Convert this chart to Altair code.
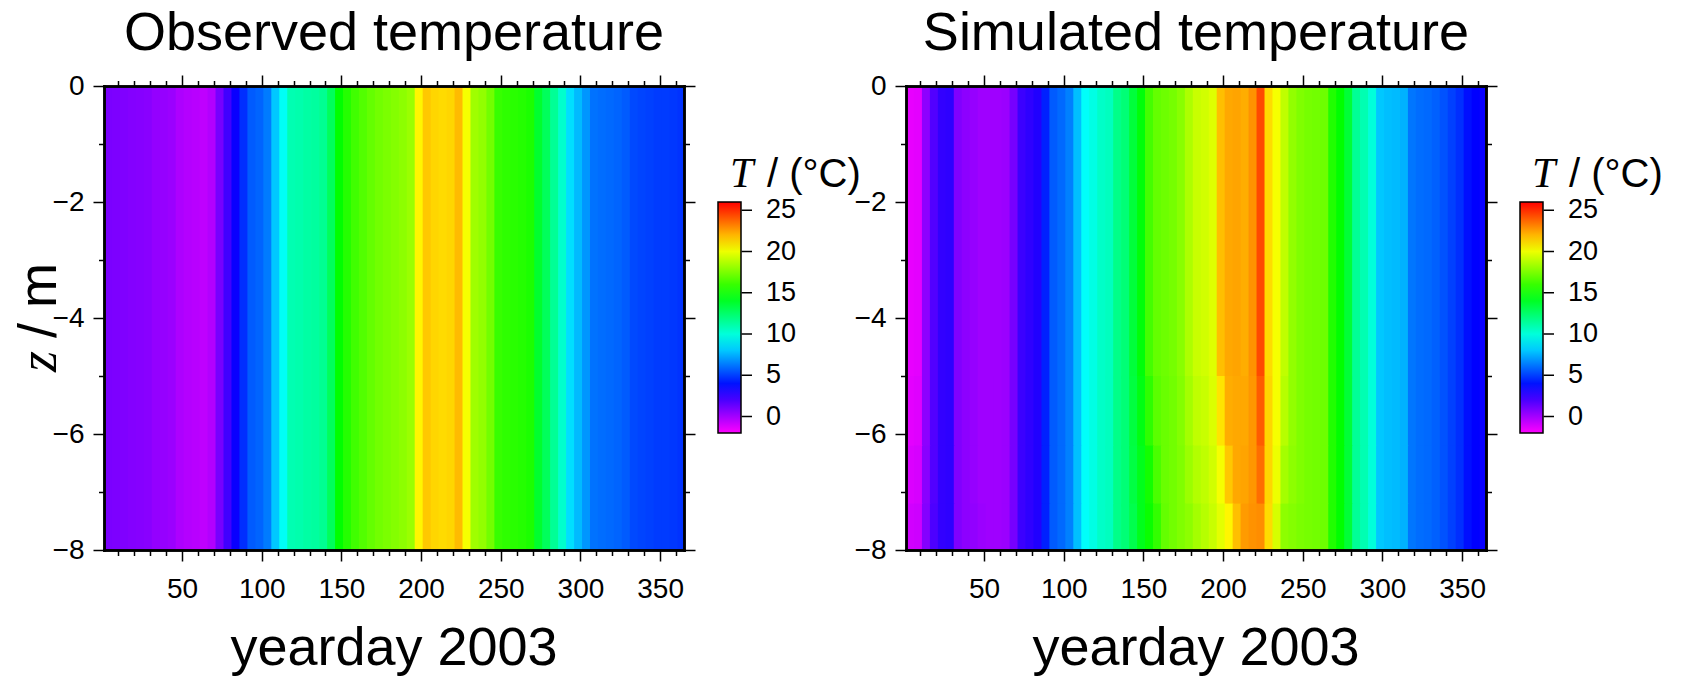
import altair as alt
import pandas as pd

# ---- grid: 5-day cells across the year, depth bands in metres ----
DAY_STARTS = list(range(1, 362, 5))
DAY_LAST = 365

# Observed water temperature (deg C), one value per 5-day cell, whole column
OBS_T = [0.9, 0.85, 0.8, 0.7, 0.65, 0.6, 0.35, 0.3, 0.2, -0.2,
         -0.35, -0.45, -0.6, -0.3, 1.0, 2.2, 3.4, 4.6, 5.6, 5.8,
         6.3, 8.0, 9.4, 10.9, 11.0, 11.2, 11.3, 11.6, 12.8, 14.8,
         15.6, 16.2, 16.6, 17.0, 17.3, 17.5, 17.7, 17.9, 18.2, 20.6,
         21.6, 21.3, 21.2, 21.3, 21.9, 20.2, 18.3, 18.0, 17.3, 16.0,
         15.8, 15.7, 15.6, 15.4, 13.8, 12.8, 11.5, 10.3, 8.5, 7.7,
         6.9, 6.1, 6.0, 5.9, 5.8, 5.6, 5.2, 5.1, 5.0, 4.9,
         4.9, 4.8, 4.7]

# Simulated temperature, layer 0 to -5 m
SIM_T_1 = [-1.5, -1.4, 0.5, 1.8, 2.5, 2.6, 0.8, 0.5, 0.3, 0.1,
           0.1, 0.1, 0.2, 1.0, 2.3, 2.6, 2.9, 4.3, 5.6, 5.9,
           6.4, 7.8, 9.3, 9.8, 10.4, 10.6, 11.8, 12.2, 13.5, 14.6,
           16.3, 17.0, 17.2, 17.4, 17.8, 18.6, 19.2, 19.4, 19.7, 21.8,
           22.3, 22.4, 22.2, 22.8, 24.4, 21.2, 20.2, 19.0, 18.0, 17.6,
           17.4, 17.3, 17.2, 15.5, 14.8, 13.6, 11.5, 10.9, 10.0, 8.0,
           7.8, 7.7, 7.5, 6.2, 6.0, 5.9, 5.7, 5.4, 5.0, 4.6,
           3.9, 3.6, 3.4]

# Simulated temperature, layer -5 to -6.2 m
SIM_T_2 = [-1.4, -1.3, 0.5, 1.8, 2.5, 2.6, 0.8, 0.5, 0.3, 0.1,
           0.1, 0.1, 0.2, 1.0, 2.3, 2.6, 2.9, 4.3, 5.6, 5.9,
           6.4, 7.8, 9.3, 9.8, 10.4, 10.6, 11.8, 12.2, 13.4, 14.4,
           15.8, 16.8, 17.1, 17.3, 17.7, 18.4, 19.0, 19.2, 19.6, 21.0,
           22.2, 22.3, 22.3, 22.7, 24.0, 21.3, 20.2, 18.8, 18.0, 17.6,
           17.4, 17.3, 17.2, 15.5, 14.8, 13.6, 11.5, 10.9, 10.0, 8.0,
           7.8, 7.7, 7.5, 6.2, 6.0, 5.9, 5.7, 5.4, 5.0, 4.6,
           3.9, 3.6, 3.4]

# Simulated temperature, layer -6.2 to -7.2 m
SIM_T_3 = [-1.2, -1.1, 0.6, 1.8, 2.5, 2.6, 0.8, 0.5, 0.3, 0.1,
           0.1, 0.1, 0.2, 1.0, 2.3, 2.6, 2.9, 4.3, 5.6, 5.9,
           6.4, 7.8, 9.3, 9.8, 10.4, 10.6, 11.8, 12.2, 13.3, 14.2,
           15.2, 16.4, 17.1, 17.3, 17.6, 18.2, 18.7, 19.0, 19.4, 20.2,
           21.6, 22.3, 22.4, 22.7, 23.6, 21.3, 20.0, 18.4, 17.9, 17.6,
           17.4, 17.3, 17.2, 15.5, 14.8, 13.6, 11.5, 10.9, 10.0, 8.0,
           7.8, 7.7, 7.5, 6.2, 6.0, 5.9, 5.7, 5.4, 5.0, 4.6,
           3.9, 3.6, 3.4]

# Simulated temperature, layer -7.2 to -8 m
SIM_T_4 = [-1.0, -0.9, 0.7, 1.9, 2.5, 2.6, 0.8, 0.5, 0.4, 0.2,
           0.1, 0.1, 0.2, 1.0, 2.3, 2.6, 2.9, 4.3, 5.6, 5.9,
           6.4, 7.8, 9.3, 9.8, 10.4, 10.6, 11.8, 12.2, 13.1, 14.2,
           15.0, 15.9, 17.0, 17.3, 17.6, 17.9, 18.4, 18.8, 19.2, 19.8,
           20.6, 21.8, 22.6, 22.8, 22.9, 21.2, 19.5, 17.9, 17.7, 17.5,
           17.4, 17.3, 17.2, 15.5, 14.8, 13.6, 11.5, 10.9, 10.0, 8.0,
           7.8, 7.7, 7.5, 6.2, 6.0, 5.9, 5.7, 5.4, 5.0, 4.6,
           3.9, 3.6, 3.4]

OBS_BANDS = [(0, -8, OBS_T)]
SIM_BANDS = [(0, -5, SIM_T_1), (-5, -6.2, SIM_T_2),
             (-6.2, -7.2, SIM_T_3), (-7.2, -8, SIM_T_4)]

# axis ticks
X_MAJOR = [50, 100, 150, 200, 250, 300, 350]
X_MINOR = [10, 20, 30, 40, 60, 70, 80, 90, 110, 120, 130, 140, 160, 170, 180, 190,
           210, 220, 230, 240, 260, 270, 280, 290, 310, 320, 330, 340, 360]
Y_MAJOR = [0, -2, -4, -6, -8]
Y_MINOR = [-1, -3, -5, -7]
CBAR_TICKS = [0, 5, 10, 15, 20, 25]

# rainbow palette (magenta -> blue -> cyan -> green -> yellow -> red)
T_STOPS = [-2, 3.6, 9.2, 14.8, 20.4, 26]
T_COLORS = ["#ff00ff", "#0000ff", "#00ffff", "#00ff00", "#ffff00", "#ff0000"]

TITLES = ["Observed temperature", "Simulated temperature"]
X_TITLE = "yearday 2003"

SANS = "Liberation Sans"
SERIF = "Liberation Serif"
W, H = 580, 464


def temp_cells(bands):
    """One rectangle per (5-day cell, depth band); each cell slightly overlaps
    its right/lower neighbour so no hairline seams show between fills."""
    rows = []
    for top, bottom, temps in bands:
        low = bottom - 0.05 if bottom > -8 else bottom
        for i, (start, t) in enumerate(zip(DAY_STARTS, temps)):
            end = DAY_STARTS[i + 1] + 0.5 if i + 1 < len(DAY_STARTS) else DAY_LAST
            rows.append({"start": start, "end": end, "top": top, "bottom": low, "T": t})
    return pd.DataFrame(rows)


x_scale = alt.Scale(domain=[1, 365], nice=False, zero=False)
y_scale = alt.Scale(domain=[-8, 0], nice=False, zero=False)
t_scale = alt.Scale(domain=T_STOPS, range=T_COLORS, interpolate="rgb")


def frame_axis(orient, values, size, labels=False):
    kw = dict(orient=orient, values=values, tickSize=size, tickWidth=1.5,
              tickColor="black", domain=True, domainColor="black",
              domainWidth=2.5, domainCap="square", grid=False, title=None,
              labels=labels, zindex=2)
    if labels:
        kw.update(labelFont=SANS, labelFontSize=28, labelColor="black",
                  labelPadding=14 if orient == "bottom" else 9,
                  labelOverlap=False, labelFlush=False)
    return alt.Axis(**kw)


helper = pd.DataFrame({"day": [1], "z": [0]})
note = pd.DataFrame({"k": [0]})


def axis_layer(xo, xv, xs, yo, yv, ys):
    return alt.Chart(helper).mark_point(opacity=0).encode(
        x=alt.X("day:Q", scale=x_scale, axis=frame_axis(xo, xv, xs)),
        y=alt.Y("z:Q", scale=y_scale, axis=frame_axis(yo, yv, ys)),
    )


def text(s, x, y, size, font=SANS, style="normal", align="center", angle=0):
    return alt.Chart(note).mark_text(
        text=s, font=font, fontSize=size, fontStyle=style, align=align,
        baseline="alphabetic", angle=angle, color="black",
    ).encode(x=alt.value(x), y=alt.value(y))


legend = alt.Legend(
    type="gradient", orient="none", legendX=614, legendY=116, direction="vertical",
    gradientLength=231, gradientThickness=23, gradientStrokeColor="black",
    gradientStrokeWidth=1.5, values=CBAR_TICKS, labelFont=SANS,
    labelFontSize=27, labelColor="black", labelOffset=25, title=None, padding=0,
)

cbar_ticks = alt.Chart(pd.DataFrame({"v": CBAR_TICKS})).mark_rule(
    color="black", strokeWidth=1.5
).encode(
    y=alt.Y("v:Q", scale=alt.Scale(domain=[-2, 26], range=[347, 116]), axis=None),
    x=alt.value(637.5),
    x2=alt.value(648),
)


def panel(cells, title, with_ylabel):
    heat = alt.Chart(cells).mark_rect(clip=True).encode(
        x=alt.X("start:Q", scale=x_scale, axis=frame_axis("bottom", X_MAJOR, 11, True)),
        x2="end:Q",
        y=alt.Y("top:Q", scale=y_scale, axis=frame_axis("left", Y_MAJOR, 11, True)),
        y2="bottom:Q",
        color=alt.Color("T:Q", scale=t_scale, legend=legend),
    )
    layers = [
        heat,
        axis_layer("top", X_MAJOR, 11, "right", Y_MAJOR, 11),
        axis_layer("bottom", X_MINOR, 5.5, "left", Y_MINOR, 5.5),
        axis_layer("top", X_MINOR, 5.5, "right", Y_MINOR, 5.5),
        cbar_ticks,
        text(title, 290, -36, 54),
        text(X_TITLE, 290, 579, 54),
        text("T", 626, 101, 42, SERIF, "italic", "left"),
        text("/ (°C)", 663, 101, 40, align="left"),
    ]
    if with_ylabel:
        layers += [
            text("z", -48, 286, 54, SERIF, "italic", "left", 270),
            text("/ m", -48, 252, 54, align="left", angle=270),
        ]
    return (
        alt.layer(*layers)
        .resolve_scale(x="independent", y="independent")
        .resolve_axis(x="independent", y="independent")
        .properties(width=W, height=H)
    )


chart = (
    alt.hconcat(
        panel(temp_cells(OBS_BANDS), TITLES[0], True),
        panel(temp_cells(SIM_BANDS), TITLES[1], False),
        spacing=222,
        bounds="flush",
    )
    .resolve_scale(color="independent")
    .properties(padding={"left": 13, "top": 7, "right": 5, "bottom": 5},
                background="white")
    .configure_view(strokeWidth=0)
)

chart.save("out.html", embed_options={"renderer": "svg", "actions": False})
